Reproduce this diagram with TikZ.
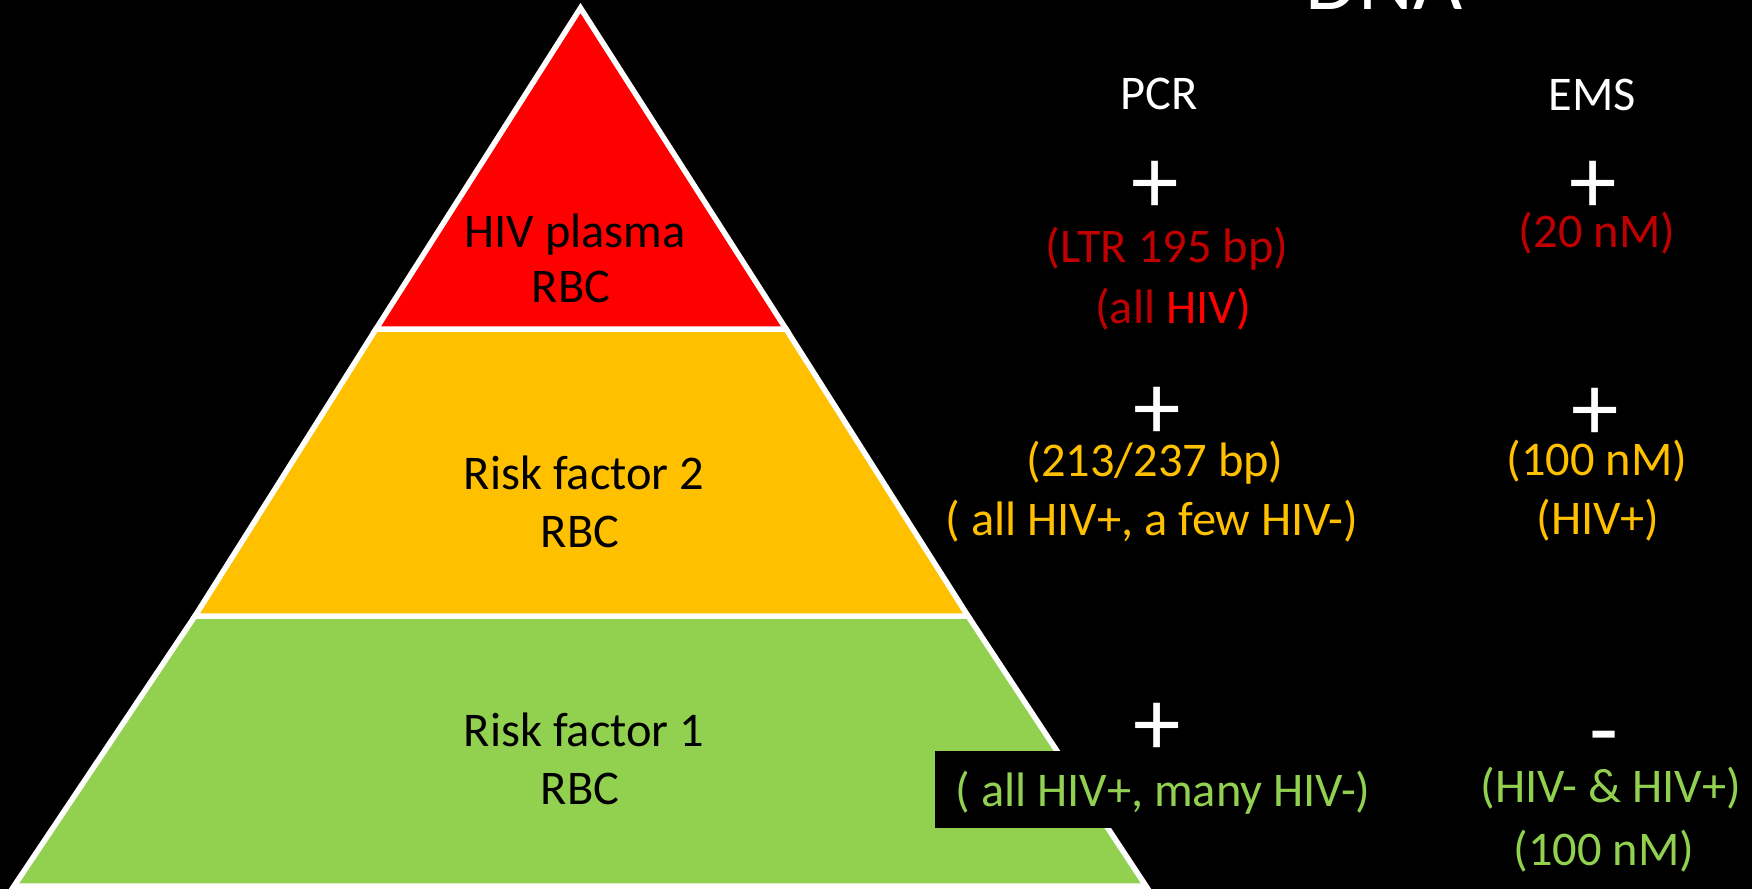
\documentclass[tikz,border=0pt]{standalone}
\usepackage{fontspec}
\setmainfont{Carlito}
\definecolor{tierred}{HTML}{FF0000}
\definecolor{tierorange}{HTML}{FFC000}
\definecolor{tiergreen}{HTML}{92D050}
\definecolor{darkred}{HTML}{C00000}
\begin{document}
\begin{tikzpicture}[x=1pt,y=-1pt,
  txt/.style={inner sep=0pt, anchor=base, font=\fontsize{48.4}{56}\selectfont},
  sym/.style={inner sep=0pt, anchor=base, font=\fontsize{95}{100}\selectfont, text=white},
  tier/.style={draw=white, line width=5.5pt, line join=miter}]
\clip (0,0) rectangle (1752,889);
\fill[black] (0,0) rectangle (1752,889);
% pyramid corners
\coordinate (apex) at (580.5,8);
\coordinate (rl) at (376,329);
\coordinate (rr) at (786,329);
\coordinate (ol) at (195,616);
\coordinate (or) at (968,616);
\coordinate (gl) at (14,886);
\coordinate (gr) at (1146,886);
% tiers
\filldraw[tier, fill=tiergreen] (ol) -- (or) -- (gr) -- (gl) -- cycle;
\filldraw[tier, fill=tierorange] (rl) -- (rr) -- (or) -- (ol) -- cycle;
\filldraw[tier, fill=tierred] (apex) -- (rr) -- (rl) -- cycle;
% tier labels
\node[txt] (t1a) at (575,247) {HIV plasma};
\node[txt] (t1b) at (571,302) {RBC};
\node[txt] (t2a) at (584,489) {Risk factor 2};
\node[txt] (t2b) at (580,547) {RBC};
\node[txt] (t3a) at (584,746) {Risk factor 1};
\node[txt] (t3b) at (580,804) {RBC};
% header
\node[txt, text=white, font=\fontsize{85}{90}\selectfont] (dna) at (1384,9) {DNA};
\node[txt, text=white] (pcr) at (1159,109) {PCR};
\node[txt, text=white] (ems) at (1592,110) {EMS};
% row 1
\node[sym] (p1) at (1155,213) {+};
\node[sym] (e1) at (1593,213) {+};
\node[txt, text=darkred] (p1a) at (1167,262) {(LTR 195 bp)};
\node[txt, text=darkred] (p1b) at (1173,323) {(all \textcolor{tierred}{HIV)}};
\node[txt, text=darkred] (e1a) at (1597,247) {(20 nM)};
% row 2
\node[sym] (p2) at (1157,439) {+};
\node[sym] (e2) at (1595,440) {+};
\node[txt, text=tierorange] (p2a) at (1155,476) {(213/237 bp)};
\node[txt, text=tierorange] (p2b) at (1152,535) {( all HIV+, a few HIV-)};
\node[txt, text=tierorange] (e2a) at (1597,475) {(100 nM)};
\node[txt, text=tierorange] (e2b) at (1598,534) {(HIV+)};
% row 3
\node[sym] (p3) at (1157,755) {+};
\node[sym] (e3) at (1604,761) {-};
\node[fill=black, inner sep=0pt, minimum width=456pt, minimum height=77pt] (box) at (1163,789.5) {};
\node[txt, text=tiergreen] (p3a) at (1163,806) {( all HIV+, many HIV-)};
\node[txt, text=tiergreen] (e3a) at (1611,802) {(HIV- \& HIV+)};
\node[txt, text=tiergreen] (e3b) at (1604,865) {(100 nM)};
\end{tikzpicture}
\end{document}
